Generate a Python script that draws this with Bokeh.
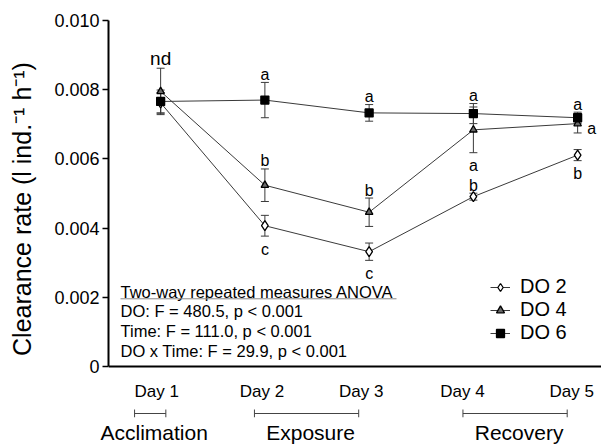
from bokeh.plotting import figure
from bokeh.models import (Range1d, FixedTicker, CustomJSTickFormatter, Span, Legend,
                          LegendItem, Whisker, ColumnDataSource, TeeHead)
from bokeh.embed import file_html
from bokeh.resources import INLINE
from bokeh.core.properties import value

# ---------------- data ----------------
days = [1, 2, 3, 4, 5]
day_labels = ["Day 1", "Day 2", "Day 3", "Day 4", "Day 5"]

do2 = [0.00762, 0.00407, 0.00332, 0.00491, 0.00611]
do2_err = [0.00030, 0.00030, 0.00025, 0.00010, 0.00016]
do4 = [0.00795, 0.00524, 0.00446, 0.00684, 0.00702]
do4_err = [0.00067, 0.00047, 0.00041, 0.00066, 0.00027]
do6 = [0.00766, 0.00770, 0.00733, 0.00731, 0.00719]
do6_err = [0.00033, 0.00051, 0.00024, 0.00029, 0.00016]

y_ticks = [0, 0.002, 0.004, 0.006, 0.008, 0.010]

groups = ["Acclimation", "Exposure", "Recovery"]
group_start = [0.75, 1.9, 3.9]
group_end = [1.05, 2.9, 4.9]

anova_lines = ["Two-way repeated measures ANOVA",
               "DO: F = 480.5, p < 0.001",
               "Time: F = 111.0, p < 0.001",
               "DO x Time: F = 29.9, p < 0.001"]

letters = ["a", "b", "c", "a", "b", "c", "a", "a", "b", "a", "a", "b"]
letter_day = [2, 2, 2, 3, 3, 3, 4, 4, 4, 5, 5, 5]
letter_series = ["DO 6", "DO 4", "DO 2", "DO 6", "DO 4", "DO 2",
                 "DO 6", "DO 4", "DO 2", "DO 6", "DO 4", "DO 2"]
letter_side = ["above", "above", "below", "above", "above", "below",
               "above", "below", "above", "above", "right", "below"]

# ---------------- layout ----------------
W, H = 601, 446
BOT = 28           # strip below the frame that holds the group names
FL = 108           # frame left in px
XPX = 104.25       # px per day
Y0PX = 367         # px row of y = 0
YPX = 34700.0      # px per unit of y

x_start = 0.5
x_end = x_start + (W - FL) / XPX
y_end = Y0PX / YPX
y_start = -(H - BOT - Y0PX) / YPX

FONT = "Liberation Sans"

p = figure(width=W, height=H, output_backend="svg", toolbar_location=None,
           x_range=Range1d(x_start, x_end), y_range=Range1d(y_start, y_end),
           x_axis_location="below", min_border_left=FL, min_border_right=0,
           min_border_top=0, min_border_bottom=BOT)
p.outline_line_color = None
p.grid.visible = False
p.background_fill_color = "white"

ax = p.yaxis[0]
ax.bounds = (0, 0.010)
ax.ticker = FixedTicker(ticks=y_ticks, minor_ticks=[])
ax.formatter = CustomJSTickFormatter(code="return tick == 0 ? '0' : tick.toFixed(3);")
ax.axis_line_width = 2
ax.axis_line_color = "black"
ax.major_tick_line_width = 1.5
ax.major_tick_out = 6
ax.major_tick_in = 0
ax.minor_tick_out = 0
ax.minor_tick_in = 0
ax.major_label_standoff = 3
ax.major_label_text_font = FONT
ax.major_label_text_font_size = "18px"
ax.major_label_text_color = "black"
ax.axis_label = "Clearance rate (l ind.\u207b\u00b9 h\u207b\u00b9)"
ax.axis_label_text_font = FONT
ax.axis_label_text_font_size = "25px"
ax.axis_label_text_font_style = "normal"
ax.axis_label_text_color = "black"
ax.axis_label_standoff = 15

# bottom axis carries the period names (Acclimation / Exposure / Recovery)
group_mid = [(a + b) / 2 + 4 / XPX for a, b in zip(group_start, group_end)]
bx = p.xaxis[0]
bx.ticker = FixedTicker(ticks=group_mid, minor_ticks=[])
bx.formatter = CustomJSTickFormatter(args=dict(names=groups),
                                     code="return names[index];")
bx.axis_line_color = None
bx.major_tick_line_color = None
bx.major_tick_out = 0
bx.major_tick_in = 0
bx.minor_tick_out = 0
bx.minor_tick_in = 0
bx.major_label_standoff = 3
bx.major_label_text_font = FONT
bx.major_label_text_font_size = "21px"
bx.major_label_text_color = "black"

# x axis line at y = 0
p.add_layout(Span(location=0, dimension="width", line_color="black", line_width=2))

# ---------------- series ----------------
LC = "#3a3a3a"
series = [
    ("DO 2", do2, do2_err, "diamond", "white", 10),
    ("DO 4", do4, do4_err, "triangle", "#6a6a6a", 7.5),
    ("DO 6", do6, do6_err, "square", "black", 8),
]
items = []
lines = {}
scat = {}
for name, ys, es, mk, fc, sz in series:
    lines[name] = p.line(days, ys, line_color=LC, line_width=1)
for name, ys, es, mk, fc, sz in series:
    src = ColumnDataSource(dict(x=days, upper=[a + b for a, b in zip(ys, es)],
                                lower=[a - b for a, b in zip(ys, es)]))
    p.add_layout(Whisker(source=src, base="x", upper="upper", lower="lower",
                         dimension="height", line_color=LC, line_width=1,
                         upper_head=TeeHead(size=8, line_color=LC, line_width=1),
                         lower_head=TeeHead(size=8, line_color=LC, line_width=1)))
for name, ys, es, mk, fc, sz in series:
    scat[name] = p.scatter(days, ys, marker=mk, size=sz, fill_color=fc,
                           line_color="black", line_width=1.3)
    items.append(LegendItem(label=name, renderers=[lines[name], scat[name]]))

legend = Legend(items=items, location=(382, 101 - BOT), padding=0, margin=0,
                spacing=0, label_height=20, glyph_height=20, glyph_width=20,
                label_standoff=10, border_line_color=None, background_fill_alpha=0,
                label_text_font=FONT, label_text_font_size="20px",
                label_text_color="black")
p.add_layout(legend)

# ---------------- significance letters ----------------
sdata = {"DO 2": (do2, do2_err), "DO 4": (do4, do4_err), "DO 6": (do6, do6_err)}
lx, ly, lxo, lyo = [], [], [], []
for t, d, s, side in zip(letters, letter_day, letter_series, letter_side):
    m, e = sdata[s]
    i = days.index(d)
    lx.append(d)
    if side == "above":
        ly.append(m[i] + e[i]); lxo.append(0); lyo.append(-8)
    elif side == "below":
        ly.append(m[i] - e[i]); lxo.append(0); lyo.append(13)
    else:
        ly.append(m[i]); lxo.append(14); lyo.append(4.5)
p.text(x=lx, y=ly, text=letters, x_offset=lxo, y_offset=lyo,
       text_font=value(FONT), text_font_size=value("16px"), text_color="black",
       text_align="center", text_baseline="alphabetic")
# "nd" above Day 1
p.text(x=[days[0]], y=[do4[0] + do4_err[0]], text=["nd"], y_offset=[-10],
       text_font=value(FONT), text_font_size=value("19px"), text_color="black",
       text_align="center", text_baseline="alphabetic")

# ---------------- day labels, brackets ----------------
day_shift = [-4, -3, -8, -11, -6]
p.text(x=days, y=[0] * len(days), text=day_labels, x_offset=day_shift,
       y_offset=[25] * len(days),
       text_font=value(FONT), text_font_size=value("17px"), text_color="black",
       text_align="center", text_baseline="middle")

by = -47 / YPX
cap = 4 / YPX
p.segment(x0=group_start, y0=[by] * 3, x1=group_end, y1=[by] * 3,
          line_color="#444444", line_width=1)
p.segment(x0=group_start + group_end, y0=[by - cap] * 6,
          x1=group_start + group_end, y1=[by + cap] * 6,
          line_color="#444444", line_width=1)

# ---------------- ANOVA box ----------------
p.text(x=[x_start] * 4, y=[0] * 4, text=anova_lines, x_offset=[12] * 4,
       y_offset=[-75, -55.3, -35.6, -16],
       text_font=value(FONT), text_font_size=value("16.5px"), text_color="black",
       text_align="left", text_baseline="middle")
p.segment(x0=[x_start + 12 / XPX], y0=[68 / YPX], x1=[x_start + 288 / XPX],
          y1=[68 / YPX], line_color="#888888", line_width=1)

open("out.html", "w").write(file_html(p, INLINE))
